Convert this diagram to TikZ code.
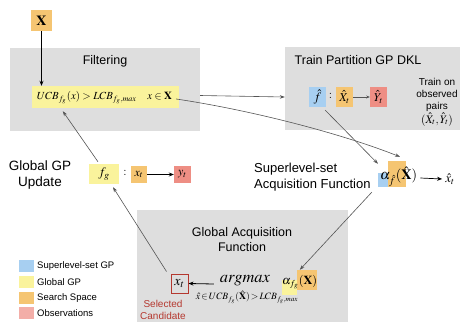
\documentclass[tikz,border=0pt]{standalone}
\usepackage{mathptmx}
\usepackage{fontspec}
\usepackage{graphicx}
\setsansfont{Liberation Sans}
\usetikzlibrary{arrows.meta,calc}
\definecolor{grayB}{HTML}{DEDEDE}
\definecolor{yelC}{HTML}{FAF39C}
\definecolor{oraC}{HTML}{F5C572}
\definecolor{bluC}{HTML}{A7CFF1}
\definecolor{redC}{HTML}{EE8E84}
\definecolor{pinkC}{HTML}{F3AEA8}
\definecolor{redT}{HTML}{B5382F}
\definecolor{lineC}{HTML}{555555}
\newcommand{\fs}[1]{\fontsize{#1pt}{1.2\dimexpr#1pt\relax}\selectfont}
\newcommand{\fitw}[2]{\resizebox{#1pt}{!}{#2}}
\tikzset{
  panel/.style={fill=grayB,draw=none,inner sep=0},
  cell/.style={draw=none,inner sep=0,minimum width=#1},
  lbl/.style={font=\sffamily\fs{12.5},inner sep=0,align=center},
  leg/.style={font=\sffamily\fs{9.5},inner sep=0,anchor=west},
  gline/.style={draw=lineC,line width=0.6pt,-{Stealth[length=5pt,width=3.5pt]}},
  bline/.style={draw=black,line width=0.8pt,-{Stealth[length=5pt,width=4pt]}},
}
\begin{document}
\begin{tikzpicture}[x=1pt,y=-1pt]
\useasboundingbox (0,0) rectangle (464,322);
% panels
\node[panel,minimum width=190,minimum height=83] (filt) at (105,89.5) {};
\node[lbl] (filtT) at (105,61) {Filtering};
\node[panel,minimum width=175,minimum height=83] (train) at (372.5,88.5) {};
\node[lbl] (trainT) at (358,60) {Train Partition GP DKL};
\node[panel,minimum width=211,minimum height=112] (gacq) at (242.5,266) {};
\node[lbl] (gacqT) at (242,240) {Global Acquisition\\Function};
% X
\node[cell=21,fill=oraC,minimum height=21,font=\fs{14}] (X) at (41.5,20.5) {$\mathbf{X}$};
% UCB filter
\node[cell=147,fill=yelC,minimum height=22] (ucb) at (105.5,97) {};
\node[inner sep=0] (ucbT) at (104.5,97.5) {\fitw{135}{$UCB_{f_g}(x) > LCB_{f_g,max}\ \ \ x \in \mathbf{X}$}};
% train partition
\node[cell=17,fill=bluC,minimum height=20,font=\fs{13}] (fhat) at (317.5,97) {$\hat f$};
\node[inner sep=0,font=\fs{12}] (colon1) at (330.5,96) {:};
\node[cell=17,fill=oraC,minimum height=20,font=\fs{12}] (Xh) at (344.5,97) {$\hat X_t$};
\node[cell=17,fill=redC,minimum height=20,font=\fs{12}] (Yh) at (378.5,97) {$\hat Y_t$};
\draw[draw=lineC,line width=0.6pt,-{Stealth[length=3.5pt,width=3pt]}] (Xh) -- (Yh);
\node[font=\sffamily\fs{10},inner sep=0,align=center] (pairs) at (437,102) {Train on\\observed\\pairs\\[1pt]{\fs{11.5}$(\hat X_t,\hat Y_t)$}};
% global GP update
\node[lbl,font=\sffamily\fs{13.5}] (ggp) at (40,175) {Global GP\\Update};
\node[cell=30,fill=yelC,minimum height=20,font=\fs{13}] (fg) at (104,174) {$f_g$};
\node[inner sep=0,font=\fs{12}] (colon2) at (125,173) {:};
\node[cell=16,fill=oraC,minimum height=17,font=\fs{12}] (xt) at (139,174.5) {$x_t$};
\node[cell=17,fill=redC,minimum height=17,font=\fs{12}] (yt) at (182.5,174.5) {$y_t$};
\draw[bline,line width=0.7pt] (xt) -- (yt);
% superlevel acquisition
\node[lbl,font=\sffamily\fs{13},align=left,anchor=west] (slaf) at (254,177) {Superlevel-set\\Acquisition Function};
\node[cell=10,fill=bluC,minimum height=14] (ablue) at (383,180) {};
\node[cell=18,fill=oraC,minimum height=26] (aora) at (397,174) {};
\node[inner sep=0,anchor=west] (aS) at (380,177) {\fitw{37}{$\alpha_{\hat f}(\hat{\mathbf{X}})$}};
\node[inner sep=0,font=\fs{13}] (xhat) at (450,179) {$\hat x_t$};
\draw[bline,line width=0.7pt] ($(aS.east)+(3,1)$) -- ($(xhat.west)+(-3,0)$);
% global acquisition content
\node[cell=17,draw=redT,line width=1pt,minimum height=19,font=\fs{14}] (xsel) at (179.5,283.5) {$x_t$};
\node[font=\sffamily\fs{10},text=redT,inner sep=0,align=center] (selc) at (163,309.5) {Selected\\Candidate};
\node[inner sep=0] (argm) at (245,281) {\fitw{50}{$argmax$}};
\node[inner sep=0] (argsub) at (247,297.5) {\fitw{102}{$\hat x\!\in\! UCB_{f_g}(\hat{\mathbf{X}})\!>\!LCB_{f_g,max}$}};
\node[cell=15,fill=yelC,minimum height=15] (ayel) at (289.5,287.5) {};
\node[cell=20,fill=oraC,minimum height=20] (aor2) at (307,280) {};
\node[inner sep=0,anchor=west] (aG) at (282,282) {\fitw{35}{$\alpha_{f_g}(\mathbf{X})$}};
\draw[bline,line width=0.8pt] ($(argm.west)+(-6,3)$) -- (xsel.east);
% legend
\node[cell=15,fill=bluC,minimum height=12] (l1) at (26.5,266) {};
\node[cell=15,fill=yelC,minimum height=12] (l2) at (26.5,282) {};
\node[cell=15,fill=oraC,minimum height=12] (l3) at (26.5,298) {};
\node[cell=15,fill=pinkC,minimum height=12] (l4) at (26.5,313) {};
\node[leg] (t1) at (37,266) {Superlevel-set GP};
\node[leg] (t2) at (37,282) {Global GP};
\node[leg] (t3) at (37,298) {Search Space};
\node[leg] (t4) at (37,313) {Observations};
% connectors
\draw[bline,line width=0.9pt] (X.south) -- (X.south |- ucb.north);
\draw[gline] ($(filt.east)+(0,6)$) -- ($(train.west)+(0,8.5)$);
\draw[gline] ($(ucb.east)+(-3,2)$) .. controls (250,110) and (340,133) .. ($(aora.north)+(3,-4)$);
\draw[gline] ($(fhat.south east)+(-1,3)$) -- ($(ablue.north)+(-5,-9)$);
\draw[gline] ($(ablue.south west)+(-6,5)$) -- ($(aor2.north west)+(3,0)$);
\draw[gline] ($(xsel.north west)+(-4,-2)$) -- ($(fg.south)+(9,3)$);
\draw[gline] ($(fg.north)+(-6,-2)$) -- ($(ucb.south west)+(31,3)$);
\end{tikzpicture}
\end{document}
